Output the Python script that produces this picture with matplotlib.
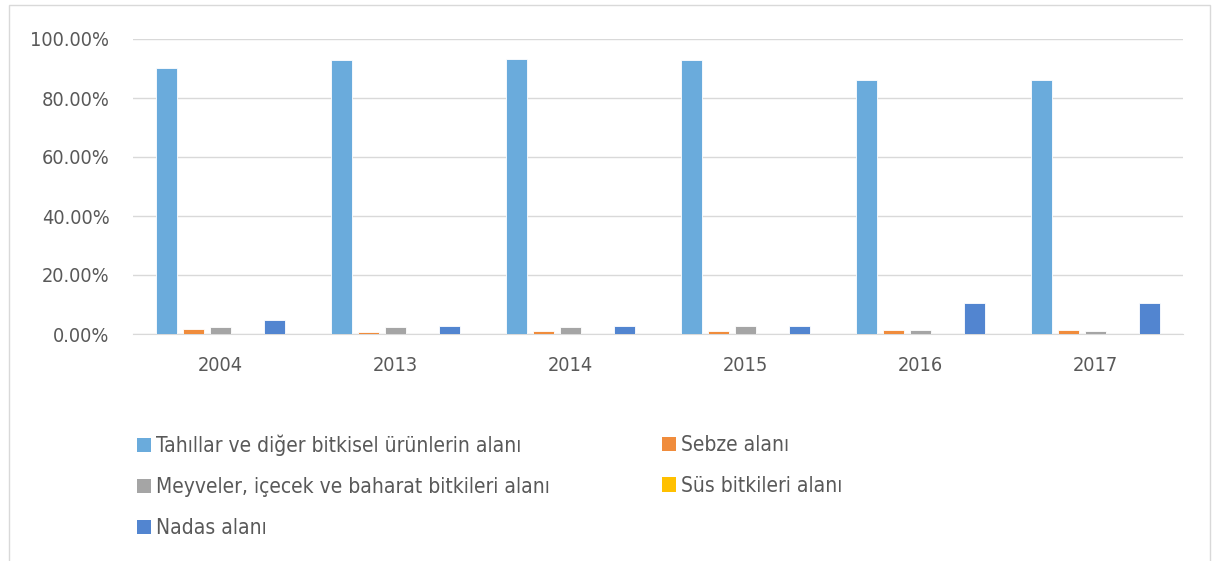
import matplotlib.pyplot as plt
import numpy as np
from matplotlib.patches import Patch, Rectangle
from matplotlib.ticker import FuncFormatter

# condensed DejaVu is the closest installed face to Calibri
plt.rcParams['font.family'] = ['DejaVu Sans']
plt.rcParams['font.stretch'] = 'condensed'

years = ['2004', '2013', '2014', '2015', '2016', '2017']
series_names = ['Tahıllar ve diğer bitkisel ürünlerin alanı', 'Sebze alanı',
                'Meyveler, içecek ve baharat bitkileri alanı', 'Süs bitkileri alanı',
                'Nadas alanı']
tahil = [0.902, 0.928, 0.932, 0.929, 0.860, 0.860]
sebze = [0.017, 0.008, 0.010, 0.010, 0.012, 0.015]
meyve = [0.025, 0.025, 0.025, 0.027, 0.012, 0.010]
sus = [0.0003, 0.0003, 0.0003, 0.0003, 0.0003, 0.0003]
nadas = [0.047, 0.028, 0.026, 0.028, 0.104, 0.104]
colors = ['#6aabdc', '#f08c3c', '#a5a5a5', '#ffc000', '#5285d0']

fig = plt.figure(figsize=(12.18, 5.61), dpi=100)
fig.patches.append(Rectangle((9 / 1218, -0.01), 1201 / 1218, 1 - 5 / 561 + 0.01,
                             transform=fig.transFigure, fill=False,
                             edgecolor='#d9d9d9', linewidth=1))
ax = fig.add_axes([133 / 1218, 1 - 334 / 561, 1050 / 1218, 295 / 561])

x = np.arange(len(years))
pitch = 0.154
width = 0.12
data = [tahil, sebze, meyve, sus, nadas]
for i, vals in enumerate(data):
    ax.bar(x + (i - 2) * pitch, vals, width, color=colors[i], label=series_names[i],
           edgecolor='white', linewidth=0.6, zorder=3)

ax.set_xlim(-0.5, len(years) - 0.5)
ax.set_ylim(0, 1.0)
ax.set_yticks(np.arange(0, 1.01, 0.2))
ax.yaxis.set_major_formatter(FuncFormatter(lambda v, p: f'{v * 100:.2f}%'))
ax.set_xticks(x)
ax.set_xticklabels(years)
ax.grid(axis='y', color='#d9d9d9', linewidth=1, zorder=0)
for s in ['top', 'right', 'left']:
    ax.spines[s].set_visible(False)
ax.spines['bottom'].set_color('#d9d9d9')
ax.tick_params(axis='both', length=0, labelsize=14.3, colors='#595959')
ax.tick_params(axis='x', pad=16)
ax.tick_params(axis='y', pad=17)

handles = [Patch(facecolor=c) for c in colors]
lkw = dict(loc='upper left', frameon=False, fontsize=15, handlelength=0.68,
           handleheight=0.68, handletextpad=0.25, labelspacing=1.0,
           labelcolor='#595959', borderaxespad=0, borderpad=0)
order = [0, 2, 4]
fig.legend([handles[i] for i in order], [series_names[i] for i in order],
           bbox_to_anchor=(137 / 1218, 1 - 435 / 561), **lkw)
order2 = [1, 3]
fig.legend([handles[i] for i in order2], [series_names[i] for i in order2],
           bbox_to_anchor=(662 / 1218, 1 - 435 / 561), **lkw)

fig.savefig('out.png', dpi=100)
